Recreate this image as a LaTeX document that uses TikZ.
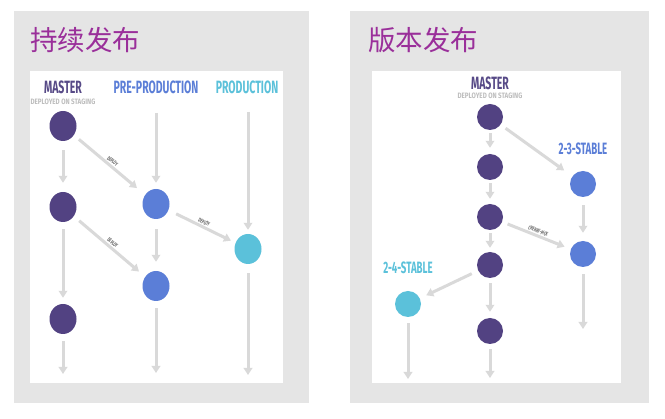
\documentclass[tikz,border=0pt]{standalone}
\usepackage{fontspec}
\usetikzlibrary{shapes.geometric,arrows.meta}
\newfontfamily\cjkf{Noto Sans CJK SC}
\newfontfamily\condf[FakeStretch=0.59]{Fira Sans}
\newfontfamily\subf[FakeStretch=0.8]{Fira Sans}
\definecolor{panelgray}{HTML}{E5E5E5}
\definecolor{titlepurple}{HTML}{9A2F9A}
\definecolor{masterc}{HTML}{524282}
\definecolor{mastert}{HTML}{574A87}
\definecolor{prec}{HTML}{5B7ED7}
\definecolor{prodc}{HTML}{5BC1DA}
\definecolor{arrowgray}{HTML}{D9D9D9}
\definecolor{subgray}{HTML}{BDBDBD}
\definecolor{taggray}{HTML}{666666}
\begin{document}
\begin{tikzpicture}[x=1pt,y=-1pt,
  panel/.style={fill=panelgray, draw=none},
  inner/.style={fill=white, draw=none},
  title/.style={font=\cjkf\fontsize{27.5}{29}\selectfont, text=titlepurple, anchor=base west, inner sep=0pt},
  dotl/.style={ellipse, minimum width=27pt, minimum height=30pt, inner sep=0pt},
  dotr/.style={circle, minimum size=26pt, inner sep=0pt},
  flow/.style={draw=arrowgray, line width=3pt, -{Triangle[length=7pt,width=8.5pt]}},
  head/.style={font=\condf\bfseries\fontsize{17.8}{18}\selectfont, anchor=base, inner sep=0pt},
  headr/.style={font=\condf\bfseries\fontsize{16.4}{17}\selectfont, anchor=base, inner sep=0pt},
  sub/.style={font=\subf\bfseries\fontsize{7.8}{8}\selectfont, text=subgray, anchor=base, inner sep=0pt},
  tag/.style={font=\condf\bfseries\fontsize{5.8}{6}\selectfont, text=taggray, sloped, above, inner sep=1.2pt}
]
\useasboundingbox[fill=white] (0,0) rectangle (665,419);
% panels
\path[panel] (14,11) rectangle (309,403);
\path[inner] (30,71) rectangle (283,383);
\path[panel] (350,11) rectangle (649,403);
\path[inner] (372,71) rectangle (621,383);
% titles
\node[title] (t1) at (30,51) {持续发布};
\node[title] (t2) at (368,51) {版本发布};

% ---------- left diagram ----------
\node[head, text=mastert] (lmh) at (63,94) {MASTER};
\node[sub] (lms) at (63,105) {DEPLOYED ON STAGING};
\node[head, text=prec] (lph) at (156,94) {PRE-PRODUCTION};
\node[head, text=prodc] (lqh) at (247,94) {PRODUCTION};

\node[dotl, fill=masterc] (m1) at (63,126) {};
\node[dotl, fill=masterc] (m2) at (63,207) {};
\node[dotl, fill=masterc] (m3) at (63,319) {};
\node[dotl, fill=prec] (p1) at (156,204) {};
\node[dotl, fill=prec] (p2) at (156,286) {};
\node[dotl, fill=prodc] (q1) at (248,249) {};

\coordinate (mEnd) at (63,374);
\coordinate (pTop) at (156,113);
\coordinate (pEnd) at (156,373);
\coordinate (qTop) at (248,112);
\coordinate (qEnd) at (248,375);

\draw[flow, shorten <=9pt, shorten >=9pt] (m1) -- (m2);
\draw[flow, shorten <=7pt, shorten >=6pt] (m2) -- (m3);
\draw[flow, shorten <=7pt] (m3) -- (mEnd);
\draw[flow, shorten >=6pt] (pTop) -- (p1);
\draw[flow, shorten <=10pt, shorten >=9pt] (p1) -- (p2);
\draw[flow, shorten <=7pt] (p2) -- (pEnd);
\draw[flow, shorten >=4pt] (qTop) -- (q1);
\draw[flow, shorten <=9pt] (q1) -- (qEnd);

\draw[flow, shorten <=6.5pt, shorten >=10.5pt] (m1) -- node[tag] (d1) {DEPLOY} (p1);
\draw[flow, shorten <=7pt, shorten >=8pt] (m2) -- node[tag] (d2) {DEPLOY} (p2);
\draw[flow, shorten <=8.5pt, shorten >=5pt] (p1) -- node[tag] (d3) {DEPLOY} (q1);

% ---------- right diagram ----------
\node[head, text=mastert] (rmh) at (490,90) {MASTER};
\node[sub] (rms) at (490,99) {DEPLOYED ON STAGING};
\node[headr, text=prec] (r23) at (583,155) {2-3-STABLE};
\node[headr, text=prodc] (r24) at (408,274) {2-4-STABLE};

\node[dotr, fill=masterc] (n1) at (490,117) {};
\node[dotr, fill=masterc] (n2) at (490,167) {};
\node[dotr, fill=masterc] (n3) at (490,217) {};
\node[dotr, fill=masterc] (n4) at (490,265) {};
\node[dotr, fill=masterc] (n5) at (490,331) {};
\node[dotr, fill=prec] (s1) at (583,184) {};
\node[dotr, fill=prec] (s2) at (583,254) {};
\node[dotr, fill=prodc] (u1) at (408,304) {};

\coordinate (nEnd) at (490,378);
\coordinate (sEnd) at (583,329);
\coordinate (uEnd) at (408,379);

\draw[flow, shorten <=3pt, shorten >=6pt] (n1) -- (n2);
\draw[flow, shorten <=3pt, shorten >=5pt] (n2) -- (n3);
\draw[flow, shorten <=3pt, shorten >=4pt] (n3) -- (n4);
\draw[flow, shorten <=5pt, shorten >=6pt] (n4) -- (n5);
\draw[flow, shorten <=5pt] (n5) -- (nEnd);
\draw[flow, shorten <=8pt, shorten >=8pt] (s1) -- (s2);
\draw[flow, shorten <=7pt] (s2) -- (sEnd);
\draw[flow, shorten <=6pt] (u1) -- (uEnd);

\draw[flow, shorten <=6pt, shorten >=10pt] (n1) -- (s1);
\draw[flow, shorten <=5.7pt, shorten >=6.6pt] (n3) -- node[tag] (cp) {CHERRY-PICK} (s2);
\draw[flow, shorten <=7pt, shorten >=7pt] (n4) -- (u1);
\end{tikzpicture}
\end{document}
